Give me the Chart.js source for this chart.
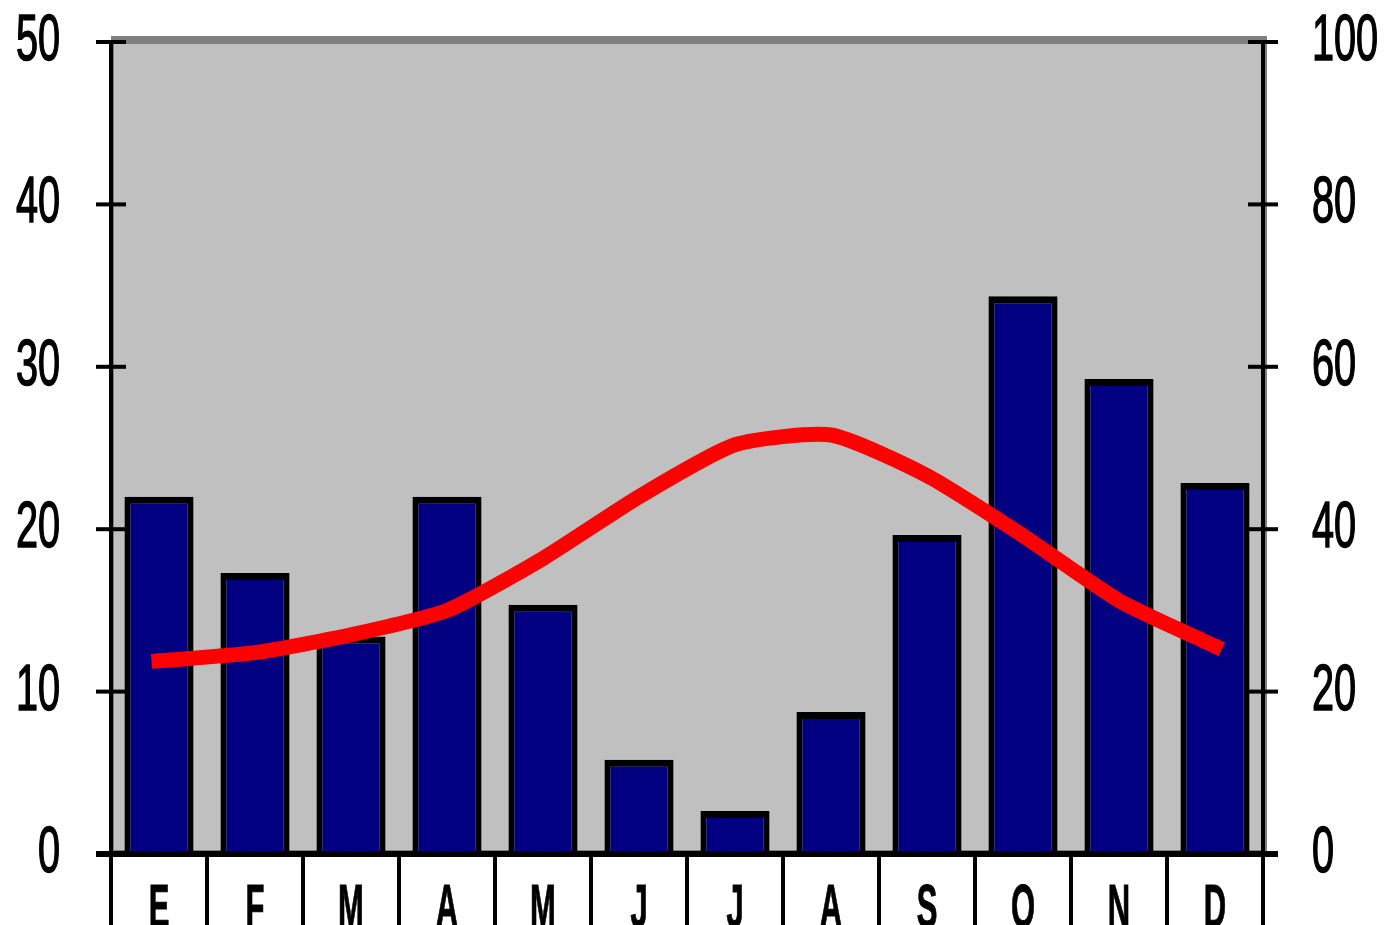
<!DOCTYPE html>
<html>
<head>
<meta charset="utf-8">
<script src="https://cdn.jsdelivr.net/npm/chart.js@4/dist/chart.umd.min.js"></script>
<style>
  html, body { margin: 0; padding: 0; background: #fff; }
  canvas { display: block; }
</style>
</head>
<body>
<canvas id="climograma" width="1388" height="925"></canvas>
<script>
// Meses del año (inicial)
const meses = ['E', 'F', 'M', 'A', 'M', 'J', 'J', 'A', 'S', 'O', 'N', 'D'];
// Precipitación mensual (mm) - eje derecho
const precipitacion = [44, 34.6, 26.8, 44, 30.7, 11.6, 5.3, 17.5, 39.3, 68.7, 58.5, 45.7];
// Temperatura media (ºC) - eje izquierdo
const temperatura = [11.9, 12.4, 13.5, 15.0, 18.2, 22.0, 25.2, 25.8, 23.3, 19.6, 15.6, 12.8];
// Marcas de los ejes
const marcasTemp = [0, 10, 20, 30, 40, 50];
const marcasPrec = [0, 20, 40, 60, 80, 100];

// texto estrechado horizontalmente (fuente tipo "narrow")
function textoEstrecho(ctx, texto, x, y, align, sx, grosor) {
    ctx.save();
    ctx.translate(x, y);
    ctx.scale(sx, 1);
    ctx.textAlign = align;
    ctx.fillText(texto, 0, 0);
    if (grosor) {
        ctx.lineWidth = grosor;
        ctx.strokeStyle = ctx.fillStyle;
        ctx.strokeText(texto, 0, 0);
    }
    ctx.restore();
}

const fondoYEjes = {
    id: 'fondoYEjes',
    beforeDatasetsDraw(chart) {
        const { ctx, chartArea: a } = chart;
        ctx.save();
        // borde gris oscuro
        ctx.fillStyle = '#808080';
        ctx.fillRect(a.left, a.top - 6, a.right - a.left + 4, a.bottom - a.top + 6);
        // fondo del área
        ctx.fillStyle = '#c0c0c0';
        ctx.fillRect(a.left + 3, a.top + 2, a.right - a.left - 3, a.bottom - a.top - 6);
        ctx.restore();
    },
    afterDatasetsDraw(chart) {
        const { ctx, chartArea: a, scales } = chart;
        const yT = scales.y, yP = scales.y1, x = scales.x;
        ctx.save();
        ctx.fillStyle = '#000';
        // línea del cero
        ctx.fillRect(a.left - 15, a.bottom - 3, a.right - a.left + 30, 6);
        // ejes verticales
        ctx.fillRect(a.left - 2, a.top - 2, 4, chart.height - a.top + 2);
        ctx.fillRect(a.right - 2, a.top - 2, 4, chart.height - a.top + 2);

        // marcas y etiquetas izquierda
        ctx.font = '65px "Liberation Sans", Arial, sans-serif';
        ctx.textBaseline = 'middle';
        marcasTemp.forEach(v => {
            const py = yT.getPixelForValue(v);
            const ancho = v === 0 ? 15 : 30;
            ctx.fillRect(a.left - 15, py - 2, ancho, 4);
            textoEstrecho(ctx, String(v), 60, py, 'right', 0.61, 1.5);
        });
        // marcas y etiquetas derecha
        marcasPrec.forEach(v => {
            const py = yP.getPixelForValue(v);
            const ini = v === 0 ? a.right : a.right - 15;
            ctx.fillRect(ini, py - 2, a.right + 15 - ini, 4);
            textoEstrecho(ctx, String(v), 1312, py, 'left', 0.61, 1.5);
        });

        // etiquetas de los meses
        ctx.font = 'bold 62px "Liberation Sans", Arial, sans-serif';
        ctx.textBaseline = 'alphabetic';
        meses.forEach((m, i) => {
            textoEstrecho(ctx, m, x.getPixelForValue(i), a.bottom + 73, 'center', 0.5, 1);
        });
        ctx.restore();
    }
};

const ctx = document.getElementById('climograma').getContext('2d');
const grafico = new Chart(ctx, {
    data: {
        labels: meses,
        datasets: [{
            type: 'line',
            label: 'Temperatura',
            data: temperatura,
            yAxisID: 'y',
            borderColor: '#ff0000',
            borderWidth: 15,
            borderCapStyle: 'square',
            tension: 0.2,
            pointRadius: 0,
            fill: false,
            order: 0
        }, {
            type: 'bar',
            label: 'Precipitación',
            data: precipitacion,
            yAxisID: 'y1',
            backgroundColor: '#000080',
            borderColor: '#000000',
            borderWidth: { top: 7, left: 6, right: 6, bottom: 0 },
            borderSkipped: false,
            barPercentage: 0.72,
            categoryPercentage: 1,
            order: 1
        }]
    },
    options: {
        responsive: false,
        animation: false,
        devicePixelRatio: 1,
        layout: { padding: { top: 42, left: 0, right: 0, bottom: 0 } },
        plugins: {
            legend: { display: false },
            tooltip: { enabled: false }
        },
        scales: {
            x: {
                offset: true,
                grid: {
                    offset: true,
                    drawOnChartArea: false,
                    drawTicks: true,
                    tickLength: 71,
                    color: '#000',
                    lineWidth: 4
                },
                border: { display: false },
                ticks: { display: false },
                afterFit(s) { s.height = 71; }
            },
            y: {
                position: 'left',
                min: 0,
                max: 50,
                ticks: { display: false, stepSize: 10 },
                grid: { display: false },
                border: { display: false },
                afterFit(s) { s.width = 111; }
            },
            y1: {
                position: 'right',
                min: 0,
                max: 100,
                ticks: { display: false, stepSize: 20 },
                grid: { display: false },
                border: { display: false },
                afterFit(s) { s.width = 125; }
            }
        }
    },
    plugins: [fondoYEjes]
});
</script>
</body>
</html>
